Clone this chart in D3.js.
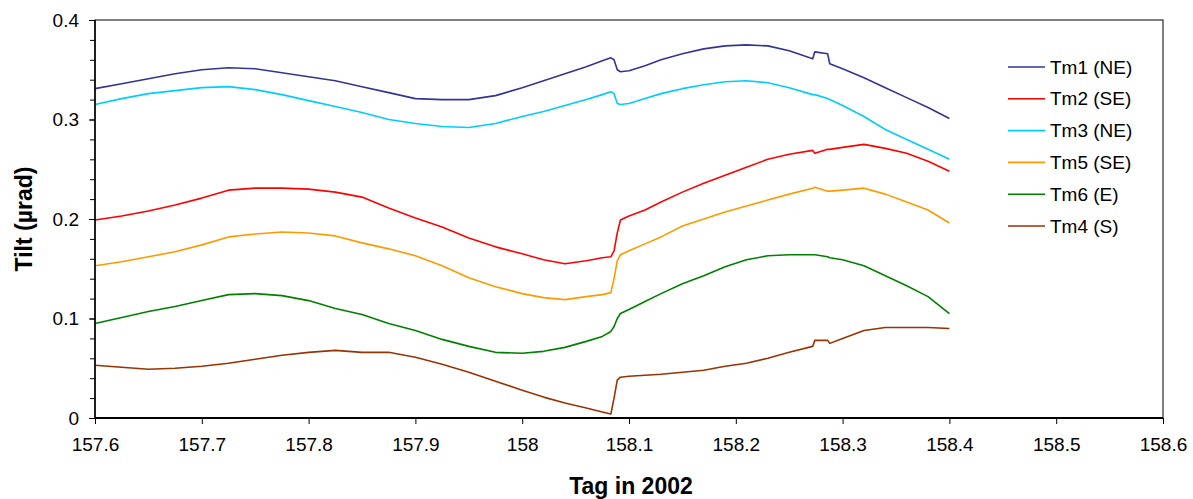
<!DOCTYPE html>
<html>
<head>
<meta charset="utf-8">
<script src="https://cdn.jsdelivr.net/npm/d3@7"></script>
<style>
  html, body { margin: 0; padding: 0; background: #fff; }
  svg { display: block; font-family: "Liberation Sans", Arial, sans-serif; }
</style>
</head>
<body>
<svg id="chart" width="1193" height="499"></svg>
<script>
// ---- data ----
const days = [157.60, 157.625, 157.65, 157.675, 157.70, 157.725, 157.75, 157.775, 157.80, 157.825,
  157.85, 157.875, 157.90, 157.925, 157.95, 157.975, 158.00, 158.02, 158.04, 158.06,
  158.075, 158.083, 158.086, 158.089, 158.092, 158.10, 158.115, 158.13, 158.15, 158.17,
  158.19, 158.21, 158.23, 158.25, 158.272, 158.274, 158.286, 158.288, 158.30, 158.32,
  158.34, 158.36, 158.38, 158.40];

const tm1 = [0.331, 0.336, 0.341, 0.346, 0.350, 0.352, 0.351, 0.347, 0.343, 0.339,
  0.333, 0.327, 0.321, 0.320, 0.320, 0.324, 0.332, 0.339, 0.346, 0.353,
  0.359, 0.362, 0.360, 0.350, 0.348, 0.349, 0.354, 0.360, 0.366, 0.371,
  0.374, 0.375, 0.374, 0.369, 0.361, 0.368, 0.366, 0.356, 0.351, 0.342,
  0.332, 0.322, 0.312, 0.301];

const tm2 = [0.199, 0.203, 0.208, 0.214, 0.221, 0.229, 0.231, 0.231, 0.230, 0.227,
  0.222, 0.211, 0.201, 0.192, 0.181, 0.172, 0.165, 0.159, 0.155, 0.158,
  0.161, 0.162, 0.168, 0.186, 0.199, 0.203, 0.209, 0.217, 0.227, 0.236,
  0.244, 0.252, 0.260, 0.265, 0.269, 0.266, 0.270, 0.270, 0.272, 0.275,
  0.271, 0.266, 0.258, 0.248];

const tm3 = [0.315, 0.321, 0.326, 0.329, 0.332, 0.333, 0.330, 0.325, 0.319, 0.313,
  0.307, 0.300, 0.296, 0.293, 0.292, 0.296, 0.303, 0.308, 0.314, 0.320,
  0.325, 0.328, 0.326, 0.316, 0.315, 0.316, 0.321, 0.326, 0.331, 0.335,
  0.338, 0.339, 0.337, 0.332, 0.325, 0.325, 0.321, 0.320, 0.314, 0.303,
  0.290, 0.280, 0.270, 0.260];

const tm5 = [0.153, 0.157, 0.162, 0.167, 0.174, 0.182, 0.185, 0.187, 0.186, 0.183,
  0.176, 0.170, 0.163, 0.153, 0.141, 0.132, 0.125, 0.121, 0.119, 0.122,
  0.124, 0.126, 0.140, 0.158, 0.164, 0.168, 0.175, 0.182, 0.193, 0.200,
  0.207, 0.213, 0.219, 0.225, 0.231, 0.232, 0.228, 0.228, 0.229, 0.231,
  0.225, 0.217, 0.209, 0.196];

const tm6 = [0.095, 0.101, 0.107, 0.112, 0.118, 0.124, 0.125, 0.123, 0.118, 0.110,
  0.104, 0.095, 0.088, 0.079, 0.072, 0.066, 0.065, 0.067, 0.071, 0.077,
  0.082, 0.087, 0.092, 0.100, 0.105, 0.109, 0.117, 0.125, 0.135, 0.143,
  0.152, 0.159, 0.163, 0.164, 0.164, 0.164, 0.162, 0.161, 0.159, 0.153,
  0.143, 0.133, 0.122, 0.105];

const tm4 = [0.053, 0.051, 0.049, 0.050, 0.052, 0.055, 0.059, 0.063, 0.066, 0.068,
  0.066, 0.066, 0.061, 0.054, 0.046, 0.037, 0.028, 0.021, 0.015, 0.010,
  0.006, 0.004, 0.020, 0.038, 0.041, 0.042, 0.043, 0.044, 0.046, 0.048,
  0.052, 0.055, 0.060, 0.066, 0.072, 0.078, 0.078, 0.075, 0.080, 0.088,
  0.091, 0.091, 0.091, 0.090];

const seriesNames = ["Tm1 (NE)", "Tm2 (SE)", "Tm3 (NE)", "Tm5 (SE)", "Tm6 (E)", "Tm4 (S)"];
const seriesValues = [tm1, tm2, tm3, tm5, tm6, tm4];
const seriesColors = ["#333399", "#ff0000", "#00ccff", "#ff9900", "#008000", "#993300"];

const xTicks = [157.6, 157.7, 157.8, 157.9, 158.0, 158.1, 158.2, 158.3, 158.4, 158.5, 158.6];
const xTickLabels = ["157.6", "157.7", "157.8", "157.9", "158", "158.1", "158.2", "158.3", "158.4", "158.5", "158.6"];
const yTicks = [0, 0.1, 0.2, 0.3, 0.4];
const yTickLabels = ["0", "0.1", "0.2", "0.3", "0.4"];
const yMinorTicks = [0, 0.02, 0.04, 0.06, 0.08, 0.1, 0.12, 0.14, 0.16, 0.18, 0.2, 0.22, 0.24, 0.26, 0.28, 0.3, 0.32, 0.34, 0.36, 0.38, 0.4];

const xTitle = "Tag in 2002";
const yTitle = "Tilt (µrad)";

// ---- layout ----
const svg = d3.select("#chart");
const plot = { left: 95, top: 20, right: 1163, bottom: 418 };
const FONT = "'Liberation Sans', Arial, sans-serif";

const x = d3.scaleLinear().domain([157.6, 158.6]).range([plot.left, plot.right]);
const y = d3.scaleLinear().domain([0, 0.4]).range([plot.bottom, plot.top]);

// frame
svg.append("rect")
  .attr("x", plot.left).attr("y", plot.top)
  .attr("width", plot.right - plot.left).attr("height", plot.bottom - plot.top)
  .attr("fill", "none").attr("stroke", "#000").attr("stroke-width", 1);

// series
const line = d3.line().x(d => x(d[0])).y(d => y(d[1]));
seriesValues.forEach((vals, i) => {
  svg.append("path")
    .datum(days.map((d, j) => [d, vals[j]]))
    .attr("fill", "none")
    .attr("stroke", seriesColors[i])
    .attr("stroke-width", 1.6)
    .attr("stroke-linejoin", "round")
    .attr("d", line);
});

// y minor ticks
const yMinorAxis = d3.axisLeft(y).tickValues(yMinorTicks).tickSize(5).tickFormat("");
svg.append("g").attr("transform", `translate(${plot.left},0)`).call(yMinorAxis)
  .call(g => g.select(".domain").remove())
  .call(g => g.selectAll("line").attr("stroke", "#000"));

// y axis
const yAxis = d3.axisLeft(y).tickValues(yTicks).tickSize(6).tickPadding(10)
  .tickFormat((d, i) => yTickLabels[i]);
svg.append("g").attr("transform", `translate(${plot.left},0)`).call(yAxis)
  .call(g => g.select(".domain").attr("stroke", "#000").attr("stroke-width", 1.5).attr("d", `M0,${plot.top}V${plot.bottom}`))
  .call(g => g.selectAll("line").attr("stroke", "#000"))
  .call(g => g.selectAll("text").attr("font-size", 19).attr("fill", "#000").attr("font-family", FONT));

// x axis
const xAxis = d3.axisBottom(x).tickValues(xTicks).tickSize(6).tickPadding(14)
  .tickFormat((d, i) => xTickLabels[i]);
svg.append("g").attr("transform", `translate(0,${plot.bottom})`).call(xAxis)
  .call(g => g.select(".domain").attr("stroke", "#000").attr("stroke-width", 2).attr("d", `M${plot.left},0H${plot.right}`))
  .call(g => g.selectAll("line").attr("stroke", "#000"))
  .call(g => g.selectAll("text").attr("font-size", 19).attr("fill", "#000").attr("font-family", FONT));

// axis titles
svg.append("text")
  .attr("x", 631).attr("y", 494)
  .attr("text-anchor", "middle").attr("font-size", 23).attr("font-weight", "bold")
  .text(xTitle);
svg.append("text")
  .attr("transform", `translate(32,${(plot.top + plot.bottom) / 2}) rotate(-90)`)
  .attr("text-anchor", "middle").attr("font-size", 23).attr("font-weight", "bold")
  .text(yTitle);

// legend
const legend = svg.append("g");
seriesNames.forEach((name, i) => {
  const ly = 67 + i * 31.8;
  legend.append("line")
    .attr("x1", 1008).attr("x2", 1045).attr("y1", ly).attr("y2", ly)
    .attr("stroke", seriesColors[i]).attr("stroke-width", 1.6);
  legend.append("text")
    .attr("x", 1050).attr("y", ly).attr("dy", "0.35em")
    .attr("font-size", 19).attr("fill", "#000")
    .text(name);
});
</script>
</body>
</html>
